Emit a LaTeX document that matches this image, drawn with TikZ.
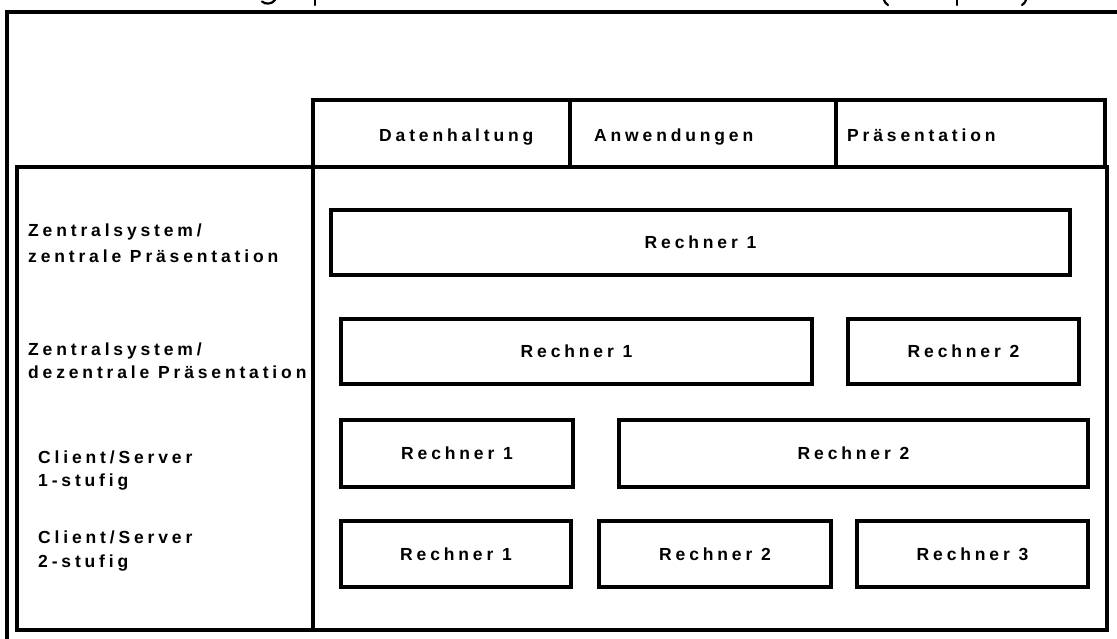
\documentclass[tikz,border=0pt]{standalone}
\usepackage{fontspec}
\newfontfamily\lblfont{Liberation Sans Bold}[LetterSpace=22]
\begin{document}
\begin{tikzpicture}[x=1pt,y=-1pt,
  rule/.style={line width=3.2pt},
  glyphbit/.style={line width=2.2pt, line cap=round},
  rbox/.style={draw, line width=3.4pt, inner sep=0pt, minimum height=65pt,
    font=\lblfont\fontsize{17.5}{20}\selectfont},
  rowlabel/.style={anchor=base west, inner sep=0pt,
    font=\lblfont\fontsize{17.5}{20}\selectfont},
  headlabel/.style={anchor=base west, inner sep=0pt,
    font=\lblfont\fontsize{17.5}{20}\selectfont}]
\useasboundingbox (0,0) rectangle (1117,639);

% descender remnants of the title line above the frame
\draw[glyphbit] (262,1.5) .. controls (265,4.5) and (272,4.5) .. (275,0);
\draw[glyphbit] (315,0) -- (315,5);
\draw[glyphbit] (884,0) .. controls (885,2.5) .. (888,5);
\draw[glyphbit] (957,0) -- (957,5);
\draw[glyphbit] (1026,0) .. controls (1025,2.5) .. (1022,5);

% outer frame
\draw[rule] (1117,12) -- (7,12) -- (7,639);

% column header
\draw[rule] (313,167) -- (313,100) -- (1107,100);
\draw[line width=3.8pt] (1030,100) -- (1107,100);
\draw[rule] (570,100) -- (570,167);
\draw[rule] (836,100) -- (836,167);
\draw[rule] (1105,100) -- (1105,167);

% main table
\draw[rule] (17,167) rectangle (1107,630);
\draw[line width=4pt] (1107,165) -- (1107,176);
\draw[rule] (313,167) -- (313,630);

% header texts
\node[headlabel] (hDaten) at (379,142) {Datenhaltung};
\node[headlabel] (hAnw) at (594,142) {Anwendungen};
\node[headlabel] (hPraes) at (847,142) {Präsentation};

% row labels
\node[rowlabel] (l1a) at (28,237) {Zentralsystem/};
\node[rowlabel] (l1b) at (28,262) {zentrale Präsentation};
\node[rowlabel] (l2a) at (28,355) {Zentralsystem/};
\node[rowlabel] (l2b) at (28,378) {dezentrale Präsentation};
\node[rowlabel] (l3a) at (38,463) {Client/Server};
\node[rowlabel] (l3b) at (38,486) {1-stufig};
\node[rowlabel] (l4a) at (38,543) {Client/Server};
\node[rowlabel] (l4b) at (38,567) {2-stufig};

% computer boxes
\node[rbox, minimum width=739pt] (r1) at (700.5,242.5) {Rechner 1};
\node[rbox, minimum width=471pt] (r2a) at (576.5,351.5) {Rechner 1};
\node[rbox, minimum width=231pt] (r2b) at (963.5,351.5) {Rechner 2};
\node[rbox, minimum width=232pt, minimum height=67pt] (r3a) at (457,453.5) {Rechner 1\hspace{16pt}};
\node[rbox, minimum width=469pt, minimum height=67pt] (r3b) at (853.5,453.5) {Rechner 2};
\node[rbox, minimum width=230pt, minimum height=66pt] (r4a) at (456,554) {Rechner 1\hspace{16pt}};
\node[rbox, minimum width=232pt, minimum height=66pt] (r4b) at (715,554) {Rechner 2};
\node[rbox, minimum width=231pt, minimum height=66pt] (r4c) at (972.5,554) {Rechner 3};
\end{tikzpicture}
\end{document}
